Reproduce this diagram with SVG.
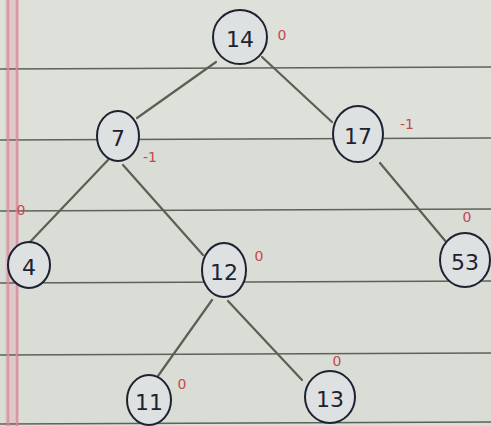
<svg xmlns="http://www.w3.org/2000/svg" width="491" height="426" viewBox="0 0 491 426">
<style>
.paper{fill:#d9ddd5}
.rule{stroke:#5d625b;stroke-width:1.6;fill:none}
.margin{stroke:#d98a9a;stroke-width:2.5;fill:none;opacity:0.8}
.node ellipse{fill:#dde1e2;stroke:#1d2230;stroke-width:2}
.node text{font-family:"DejaVu Sans","Liberation Sans",sans-serif;font-size:22px;fill:#1d2230;text-anchor:middle;dominant-baseline:central}
.edge{stroke:#5a6055;stroke-width:2.2;fill:none;stroke-linecap:round}
.bf{font-family:"DejaVu Sans","Liberation Sans",sans-serif;font-size:14px;fill:#c7484f;text-anchor:middle;dominant-baseline:central}
</style>
<rect class="paper" x="0" y="0" width="491" height="426"/>
<rect x="0" y="0" width="491" height="140" fill="#e1e3dd" opacity="0.6"/>
<g id="paper-lines">
<rect x="5" y="0" width="14" height="426" fill="#e2b6c0" opacity="0.55"/>
<line class="rule" x1="0" y1="69" x2="491" y2="67"/>
<line class="rule" x1="0" y1="140" x2="491" y2="138"/>
<line class="rule" x1="0" y1="211" x2="491" y2="209"/>
<line class="rule" x1="0" y1="283" x2="491" y2="281"/>
<line class="rule" x1="0" y1="355" x2="491" y2="353"/>
<line class="rule" x1="0" y1="424" x2="491" y2="422"/>
<line class="margin" x1="8" y1="0" x2="8" y2="426"/>
<line class="margin" x1="17" y1="0" x2="17" y2="426"/>
</g>
<g id="connectors">
<line class="edge" x1="216" y1="62" x2="137" y2="118"/>
<line class="edge" x1="262" y1="57" x2="332" y2="122"/>
<line class="edge" x1="108" y1="160" x2="30" y2="242"/>
<line class="edge" x1="123" y1="165" x2="203" y2="255"/>
<line class="edge" x1="380" y1="163" x2="447" y2="243"/>
<line class="edge" x1="212" y1="300" x2="153" y2="383"/>
<line class="edge" x1="228" y1="301" x2="302" y2="380"/>
</g>
<g id="node-14" class="node"><ellipse cx="240" cy="37" rx="27" ry="27"/><text x="240" y="39">14</text></g>
<g id="node-7" class="node"><ellipse cx="118" cy="136" rx="21" ry="25"/><text x="118" y="138">7</text></g>
<g id="node-17" class="node"><ellipse cx="358" cy="134" rx="25" ry="28"/><text x="358" y="136">17</text></g>
<g id="node-4" class="node"><ellipse cx="29" cy="265" rx="21" ry="23"/><text x="29" y="267">4</text></g>
<g id="node-12" class="node"><ellipse cx="224" cy="270" rx="22" ry="27"/><text x="224" y="272">12</text></g>
<g id="node-53" class="node"><ellipse cx="465" cy="260" rx="25" ry="27"/><text x="465" y="262">53</text></g>
<g id="node-11" class="node"><ellipse cx="149" cy="400" rx="22" ry="25"/><text x="149" y="402">11</text></g>
<g id="node-13" class="node"><ellipse cx="330" cy="397" rx="25" ry="26"/><text x="330" y="399">13</text></g>
<g id="balance-factors">
<text class="bf" x="282" y="35">0</text>
<text class="bf" x="150" y="157">-1</text>
<text class="bf" x="407" y="124">-1</text>
<text class="bf" x="21" y="210">0</text>
<text class="bf" x="259" y="256">0</text>
<text class="bf" x="467" y="217">0</text>
<text class="bf" x="182" y="384">0</text>
<text class="bf" x="337" y="361">0</text>
</g>
</svg>
